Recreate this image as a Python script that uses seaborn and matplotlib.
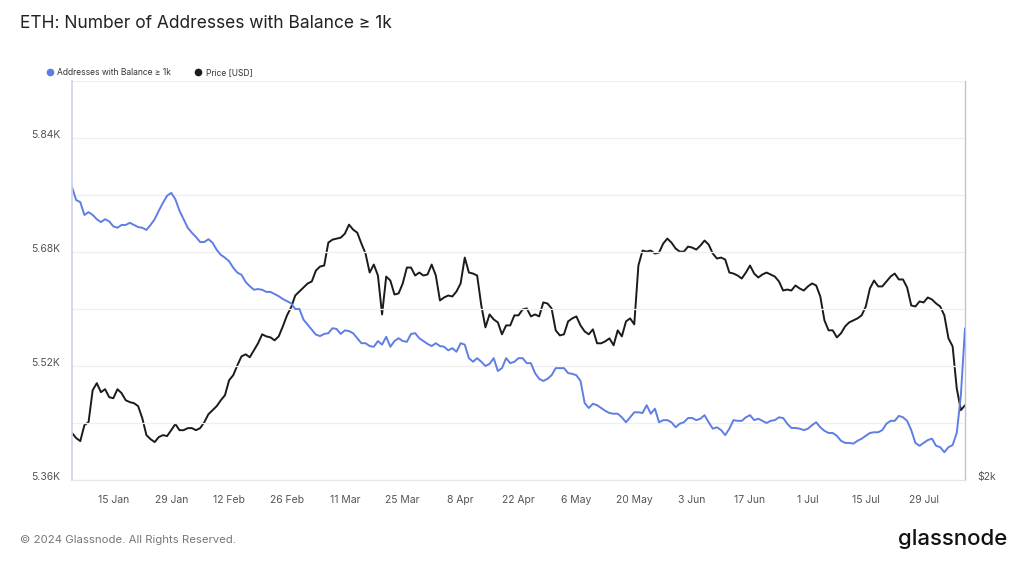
import pandas as pd
import matplotlib.pyplot as plt
import seaborn as sns
from matplotlib.lines import Line2D

# daily values, starting 5 Jan 2024
start_date = "2024-01-05"

addresses = [
    5771, 5753, 5750, 5732, 5736, 5732, 5726, 5722, 5726, 5723,
    5716, 5714, 5718, 5718, 5721, 5718, 5715, 5714, 5711, 5718,
    5726, 5738, 5749, 5759, 5763, 5754, 5738, 5726, 5714, 5707,
    5701, 5694, 5694, 5698, 5693, 5683, 5676, 5672, 5667, 5658,
    5651, 5648, 5638, 5632, 5627, 5628, 5627, 5624, 5624, 5621,
    5618, 5614, 5611, 5608, 5600, 5600, 5585, 5578, 5571, 5564,
    5562, 5565, 5566, 5573, 5572, 5565, 5570, 5569, 5566, 5559,
    5552, 5552, 5548, 5547, 5555, 5550, 5561, 5547, 5555, 5559,
    5555, 5554, 5565, 5566, 5559, 5555, 5551, 5548, 5552, 5548,
    5547, 5542, 5545, 5540, 5552, 5550, 5531, 5526, 5531, 5526,
    5520, 5523, 5531, 5513, 5517, 5531, 5524, 5526, 5531, 5531,
    5524, 5524, 5510, 5502, 5499, 5502, 5507, 5517, 5517, 5517,
    5510, 5509, 5507, 5499, 5468, 5461, 5467, 5465, 5461, 5457,
    5454, 5453, 5453, 5448, 5441, 5448, 5455, 5455, 5454, 5465,
    5453, 5460, 5441, 5444, 5444, 5441, 5434, 5439, 5441, 5447,
    5447, 5444, 5446, 5451, 5441, 5432, 5434, 5430, 5423, 5432,
    5444, 5443, 5443, 5448, 5451, 5444, 5446, 5443, 5440, 5443,
    5444, 5448, 5447, 5439, 5433, 5433, 5432, 5430, 5432, 5437,
    5441, 5434, 5429, 5426, 5426, 5422, 5415, 5412, 5412, 5411,
    5415, 5418, 5422, 5426, 5427, 5427, 5430, 5439, 5443, 5443,
    5450, 5448, 5443, 5430, 5412, 5408, 5412, 5416, 5418, 5408,
    5406, 5399, 5406, 5409, 5426, 5479, 5573,
]

price_usd = [
    2276, 2245, 2226, 2326, 2345, 2561, 2611, 2547, 2568, 2512,
    2505, 2568, 2540, 2491, 2478, 2471, 2451, 2371, 2263, 2238,
    2220, 2251, 2263, 2257, 2294, 2333, 2294, 2294, 2307, 2307,
    2294, 2307, 2345, 2397, 2424, 2451, 2491, 2526, 2632, 2669,
    2743, 2811, 2827, 2804, 2858, 2914, 2987, 2970, 2962, 2938,
    2970, 3053, 3147, 3217, 3324, 3361, 3398, 3436, 3455, 3561,
    3600, 3610, 3845, 3877, 3888, 3898, 3941, 4040, 3985, 3952,
    3835, 3731, 3541, 3620, 3512, 3155, 3502, 3464, 3333, 3343,
    3436, 3590, 3590, 3512, 3541, 3512, 3522, 3620, 3512, 3279,
    3306, 3324, 3315, 3361, 3436, 3690, 3541, 3531, 3512, 3234,
    3045, 3155, 3112, 3087, 2987, 3061, 3061, 3147, 3147, 3199,
    3208, 3138, 3155, 3138, 3261, 3252, 3208, 3020, 2978, 2987,
    3095, 3121, 3138, 3061, 3011, 2987, 3028, 2914, 2914, 2930,
    2954, 2898, 3020, 2970, 3095, 3121, 3070, 3610, 3762, 3751,
    3762, 3731, 3741, 3835, 3888, 3845, 3783, 3751, 3751, 3803,
    3793, 3772, 3814, 3867, 3824, 3731, 3680, 3690, 3670, 3541,
    3531, 3512, 3483, 3541, 3610, 3531, 3493, 3522, 3541, 3522,
    3502, 3455, 3370, 3379, 3370, 3417, 3389, 3370, 3408, 3436,
    3417, 3315, 3104, 3020, 3020, 2962, 2995, 3053, 3087, 3104,
    3121, 3147, 3225, 3389, 3464, 3408, 3408, 3455, 3502, 3531,
    3474, 3474, 3398, 3234, 3225, 3270, 3261, 3306, 3288, 3252,
    3225, 3147, 2954, 2890, 2575, 2424, 2457,
]

tick_dates = ["2024-01-15", "2024-01-29", "2024-02-12", "2024-02-26",
              "2024-03-11", "2024-03-25", "2024-04-08", "2024-04-22",
              "2024-05-06", "2024-05-20", "2024-06-03", "2024-06-17",
              "2024-07-01", "2024-07-15", "2024-07-29"]
tick_labels = ["15 Jan", "29 Jan", "12 Feb", "26 Feb", "11 Mar", "25 Mar",
               "8 Apr", "22 Apr", "6 May", "20 May", "3 Jun", "17 Jun",
               "1 Jul", "15 Jul", "29 Jul"]

left_ticks = [5360, 5440, 5520, 5600, 5680, 5760, 5840, 5920]
left_labels = ["5.36K", "", "5.52K", "", "5.68K", "", "5.84K", ""]

BLUE = "#5f7ee3"
BLACK = "#1b1b1b"

sns.set_style("white")
plt.rcParams["font.family"] = ["Inter", "DejaVu Sans"]

df = pd.DataFrame({
    "date": pd.date_range(start_date, periods=len(addresses), freq="D"),
    "addresses": addresses,
    "price": price_usd,
})

fig = plt.figure(figsize=(10.30, 5.71), dpi=100)
ax = fig.add_axes([0.0699, 0.1594, 0.8670, 0.6987])
ax2 = ax.twinx()

sns.lineplot(data=df, x="date", y="price", ax=ax2, color=BLACK, linewidth=1.4)
sns.lineplot(data=df, x="date", y="addresses", ax=ax, color=BLUE, linewidth=1.4)
ax.set_zorder(2)
ax.patch.set_visible(False)

# left axis: addresses
ax.set_ylim(5360, 5920)
ax.set_yticks(left_ticks)
ax.set_yticklabels(left_labels)
ax.grid(axis="y", color="#efefef", linewidth=0.9)
ax.tick_params(axis="y", length=0, pad=8.5, labelsize=7.5, labelcolor="#555555")
for lbl in ax.get_yticklabels():
    lbl.set_verticalalignment("baseline")

ax.set_xlim(df["date"].iloc[0], df["date"].iloc[-1])
ax.set_xticks(pd.to_datetime(tick_dates))
ax.set_xticklabels(tick_labels)
ax.tick_params(axis="x", length=6, width=0.8, color="#dcdcdc", pad=5,
               labelsize=7.5, labelcolor="#555555")
ax.set_xlabel("")
ax.set_ylabel("")

# right axis: price (log)
ax2.set_yscale("log")
ax2.set_ylim(2000, 6000)
ax2.set_yticks([2000])
ax2.set_yticklabels(["$2k"])
ax2.yaxis.set_minor_locator(plt.NullLocator())
ax2.tick_params(axis="y", length=0, pad=8.5, labelsize=7.5, labelcolor="#555555")
for lbl in ax2.get_yticklabels():
    lbl.set_verticalalignment("baseline")
ax2.set_ylabel("")
ax2.grid(False)

for a in (ax, ax2):
    for side in ("top", "left", "right", "bottom"):
        a.spines[side].set_visible(False)
ax.spines["left"].set_visible(True)
ax.spines["left"].set_color("#c9cff3")
ax.spines["left"].set_linewidth(1.2)
ax.spines["bottom"].set_visible(True)
ax.spines["bottom"].set_color("#e6e6e6")
ax2.spines["right"].set_visible(True)
ax2.spines["right"].set_color("#c4c4c4")
ax2.spines["right"].set_linewidth(1.0)

handles = [
    Line2D([], [], marker="o", linestyle="none", color=BLUE, markersize=4.5),
    Line2D([], [], marker="o", linestyle="none", color=BLACK, markersize=4.5),
]
ax.legend(handles, ["Addresses with Balance \u2265 1k", "Price [USD]"],
          loc="lower left", bbox_to_anchor=(-0.032, 1.0), ncol=2,
          frameon=False, fontsize=6.1, handlelength=0.6, handletextpad=0.55,
          columnspacing=2.9, borderpad=0, labelcolor="#333333")

fig.text(0.0194, 0.959, "ETH: Number of Addresses with Balance \u2265 1k",
         fontsize=12.5, color="#222222", va="center", ha="left")
fig.text(0.0194, 0.054, "\u00a9 2024 Glassnode. All Rights Reserved.",
         fontsize=8.2, color="#777777", va="center", ha="left")
fig.text(0.978, 0.056, "glassnode", fontsize=16, color="#111111",
         va="center", ha="right", fontweight="medium")

fig.savefig("out.png", dpi=100)
